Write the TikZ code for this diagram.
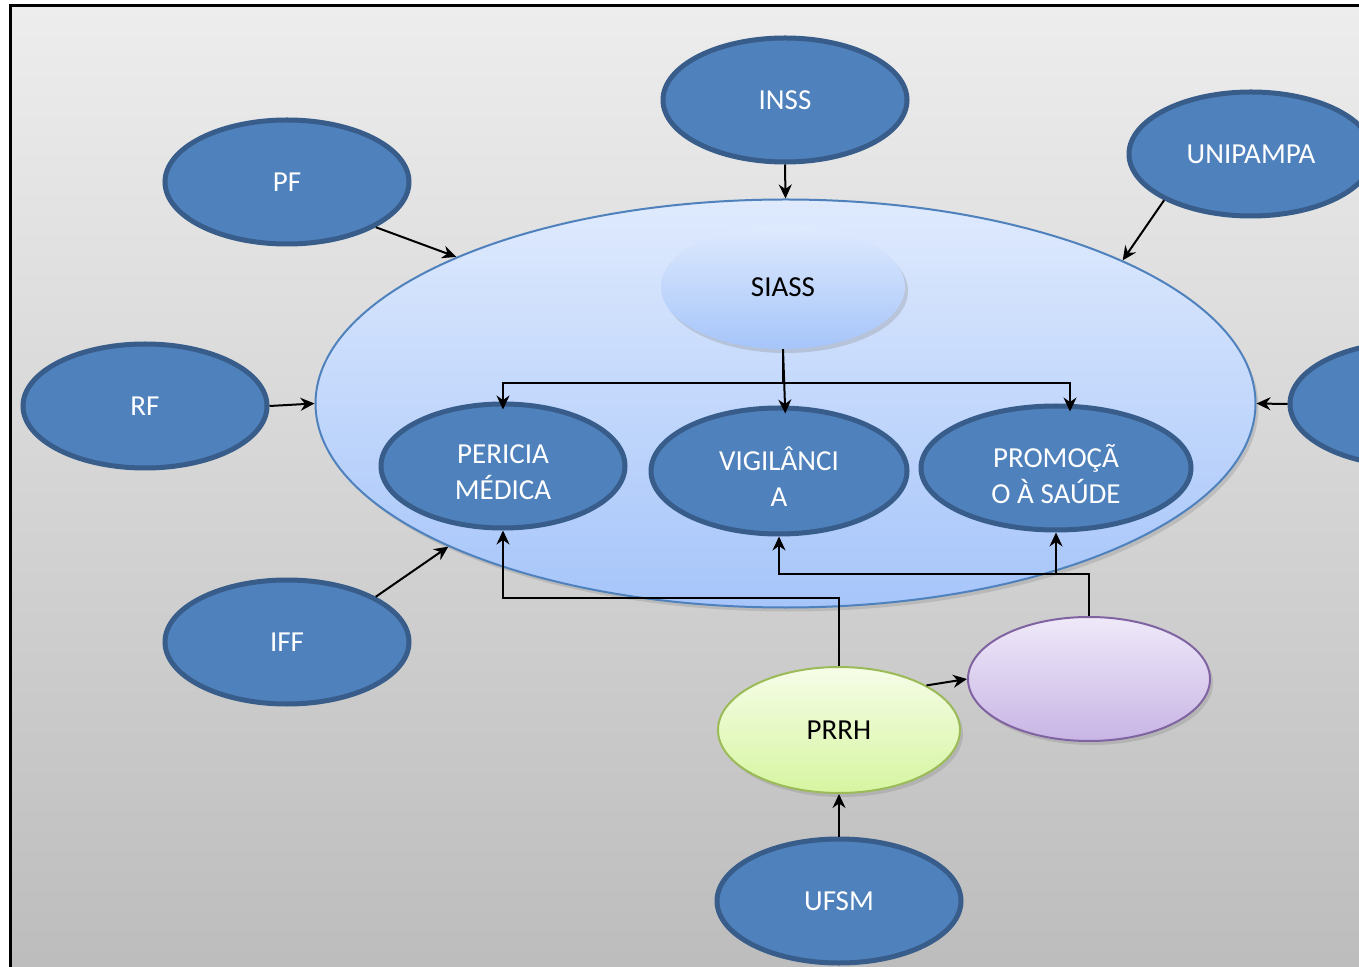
\documentclass[tikz,border=0pt]{standalone}
\usepackage{fontspec}
\setmainfont{Carlito}
\usetikzlibrary{shapes.geometric,arrows.meta,shadows,calc}
\definecolor{bluefill}{RGB}{79,129,189}
\definecolor{blueline}{RGB}{56,93,138}
\definecolor{bigtop}{RGB}{223,234,253}
\definecolor{bigbot}{RGB}{166,197,250}
\definecolor{bigline}{RGB}{79,129,189}
\definecolor{greentop}{RGB}{246,253,232}
\definecolor{greenbot}{RGB}{214,245,160}
\definecolor{greenline}{RGB}{155,187,89}
\definecolor{purptop}{RGB}{239,233,249}
\definecolor{purpbot}{RGB}{200,181,229}
\definecolor{purpline}{RGB}{128,100,162}
\definecolor{bgtop}{RGB}{237,237,237}
\definecolor{bgbot}{RGB}{188,188,188}
\tikzset{
  every node/.style={font=\fontsize{14.5}{18}\selectfont},
  bluenode/.style={ellipse, inner sep=0pt, fill=bluefill, draw=blueline, line width=2.5pt,
    text=white, align=center, minimum width=122pt, minimum height=62pt},
  twoline/.style={label={[text=white, align=center, yshift=-3pt]center:#1}},
  softshadow/.style={drop shadow={opacity=0.28, shadow xshift=1.5pt, shadow yshift=-2pt}},
  arr/.style={-{Stealth[length=7pt,width=6.5pt]}, line width=1pt, black},
  conn/.style={line width=1pt, black}
}
\begin{document}
\begin{tikzpicture}[x=0.5pt,y=-0.5pt]
\useasboundingbox (0,0) rectangle (1359,967);
\clip (0,0) rectangle (1359,967);
\fill[white] (0,0) rectangle (1359,967);
\shade[top color=bgtop, bottom color=bgbot] (10,6) rectangle (1370,980);
\draw[line width=1.5pt] (10,980) -- (10,6) -- (1370,6);

% big ellipse
\node[ellipse, inner sep=0pt, minimum width=470pt, minimum height=204pt,
  top color=bigtop, bottom color=bigbot, draw=bigline, line width=1pt, softshadow] (big) at (785.5,403.5) {};

% outer nodes
\node[bluenode] (inss) at (785,100) {INSS};
\node[bluenode] (pf) at (287,182) {PF};
\node[bluenode] (unipampa) at (1251,154) {UNIPAMPA};
\node[bluenode] (rf) at (145,406) {RF};
\node[bluenode] (right) at (1412,404) {};
\node[bluenode] (iff) at (287,642) {IFF};
\node[bluenode] (ufsm) at (839,901) {UFSM};

% inner nodes
\node[ellipse, inner sep=0pt, minimum width=122pt, minimum height=62pt,
  top color=bigtop, bottom color=bigbot, softshadow] (siass) at (783,287) {SIASS};
\node[bluenode, twoline={PERICIA\\MÉDICA}] (pericia) at (503,466) {};
\node[bluenode, minimum width=128pt, minimum height=63pt, twoline={VIGILÂNCI\\A}] (vig) at (779,471) {};
\node[bluenode, minimum width=135pt, twoline={PROMOÇÃ\\O À SAÚDE}] (promo) at (1056,468) {};

% lower nodes
\node[ellipse, inner sep=0pt, minimum width=121pt, minimum height=63pt,
  top color=greentop, bottom color=greenbot, draw=greenline, line width=1pt, softshadow] (prrh) at (839,730) {PRRH};
\node[ellipse, inner sep=0pt, minimum width=121pt, minimum height=62pt,
  top color=purptop, bottom color=purpbot, draw=purpline, line width=1pt, softshadow] (purple) at (1089,679) {};

% arrows into big ellipse
\draw[arr] (inss.south) -- (big.north);
\draw[arr] (pf.-27) -- (big.156);
\draw[arr] (unipampa.-152) -- (big.23.5);
\draw[arr] (rf.east) -- (big.west);
\draw[arr] (right.west) -- (big.east);
\draw[arr] (iff.27) -- (big.203.7);
\draw[arr] (ufsm.north) -- (prrh.south);
\draw[arr] (prrh.27) -- (purple.west);

% SIASS tree
\coordinate (jn) at (783,383);
\draw[conn] (siass.south) -- (jn);
\draw[arr, shorten >=-4pt] (jn) -| (pericia.north);
\draw[arr, shorten >=-4pt] (jn) -| ([xshift=7pt]promo.north);
\draw[arr, shorten >=-4pt] (siass.south) -- ([xshift=1pt]siass.south |- vig.north);

% PRRH to PERICIA
\coordinate (pj) at (839,598);
\draw[arr] (prrh.north) -- (pj) -| (pericia.south);

% purple to VIGILANCIA and PROMOCAO
\coordinate (mj) at (1089,574);
\draw[arr] (purple.north) -- (mj) -| (vig.south);
\draw[arr] (promo.south |- mj) -- (promo.south);
\end{tikzpicture}
\end{document}
